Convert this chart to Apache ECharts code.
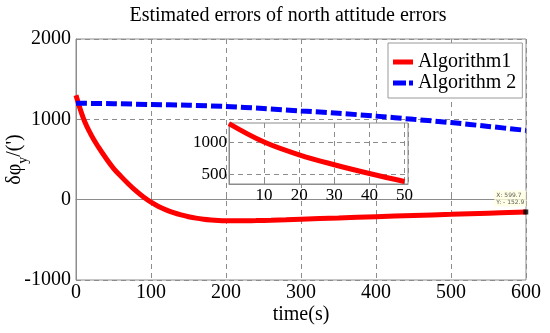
<!DOCTYPE html>
<html>
<head>
<meta charset="utf-8">
<script src="https://cdn.jsdelivr.net/npm/echarts@6/dist/echarts.min.js"></script>
<style>html,body{margin:0;padding:0;background:#fff}#c{width:550px;height:333px}</style>
</head>
<body>
<div id="c"></div>
<script>
const titleText = 'Estimated errors of north attitude errors';
const seriesNames = ['Algorithm1', 'Algorithm 2'];
const xName = 'time(s)';
const tRed = [0,10,20,30,40,50,60,70,80,90,100,110,120,130,140,150,160,170,180,190,200,220,240,260,280,300,350,400,450,500,550,600];
const red  = [1300,1010,810,653,515,390,290,195,108,32,-32,-85,-127,-162,-190,-212,-230,-243,-252,-258,-261,-263,-260,-256,-250,-243,-228,-212,-197,-183,-168,-153];
const tBlue = [0,50,100,150,200,250,300,350,400,450,500,550,600];
const blue  = [1200,1195,1185,1175,1160,1135,1105,1075,1040,1000,960,912,862];
const tipPoint = [599.7, -152.9];
const insetYLabels = [500, 1000];

const serif = 'Liberation Serif';
const redData = tRed.map((t,i)=>[t, red[i]]);
const blueData = tBlue.map((t,i)=>[t, blue[i]]);
const insetData = redData.filter(d => d[0] <= 50);
const gridCol = '#8c8c8c';

const chart = echarts.init(document.getElementById('c'));
chart.setOption({
  animation: false,
  backgroundColor: '#fff',
  title: { text: titleText, left: 283, textAlign: 'center', top: 1,
    textStyle: { fontFamily: serif, fontSize: 20, fontWeight: 'normal', color: '#000' } },
  legend: {
    data: [
      { name: seriesNames[0], icon: 'rect' },
      { name: seriesNames[1], icon: 'path://M0,0h13v5h-13z M16,0h4v5h-4z' }
    ],
    orient: 'vertical', left: 388, top: 43,
    backgroundColor: '#fff', borderColor: '#999', borderWidth: 1, borderRadius: 0,
    padding: [9, 6, 5, 5], itemGap: 1, itemWidth: 20, itemHeight: 5,
    textStyle: { fontFamily: serif, fontSize: 20, color: '#000', lineHeight: 20 }
  },
  grid: [
    { left: 76, right: 24, top: 39, bottom: 53, show: true, borderColor: gridCol, borderWidth: 1,
      outerBoundsMode: 'none', containLabel: false },
    { left: 229, top: 123, width: 179, height: 61, show: true, borderColor: gridCol, borderWidth: 1,
      backgroundColor: '#fff', z: 5, outerBoundsMode: 'none', containLabel: false }
  ],
  xAxis: [
    { type: 'value', gridIndex: 0, min: 0, max: 600, interval: 100,
      name: xName, nameLocation: 'middle', nameGap: 25, nameMoveOverlap: false,
      nameTextStyle: { fontFamily: serif, fontSize: 20, color: '#000' },
      axisLine: { lineStyle: { color: gridCol } },
      axisTick: { inside: true, length: 4, lineStyle: { color: gridCol } },
      axisLabel: { fontFamily: serif, fontSize: 20, color: '#000', margin: 3, formatter: v => String(v) },
      splitLine: { show: true, lineStyle: { color: gridCol, type: [5, 4], width: 1 } } },
    { type: 'value', gridIndex: 1, min: 0, max: 51, interval: 10, z: 6,
      axisLine: { lineStyle: { color: gridCol } },
      axisTick: { inside: true, length: 3, lineStyle: { color: gridCol } },
      axisLabel: { fontFamily: serif, fontSize: 17, color: '#000', margin: 3, showMinLabel: false, showMaxLabel: false },
      splitLine: { show: true, lineStyle: { color: gridCol, type: [5, 4], width: 1 } } }
  ],
  yAxis: [
    { type: 'value', gridIndex: 0, min: -1000, max: 2000, interval: 1000,
      name: '{a|δφ}{b|y}{a|/(\')}', nameLocation: 'middle', nameGap: 48, nameRotate: 90,
      nameMoveOverlap: false,
      nameTextStyle: { color: '#000', rich: {
        a: { fontFamily: serif, fontSize: 20, lineHeight: 26, verticalAlign: 'middle' },
        b: { fontFamily: serif, fontSize: 14, lineHeight: 26, verticalAlign: 'bottom', padding: [0, 0, -2, 0] } } },
      axisLine: { lineStyle: { color: gridCol } },
      axisTick: { inside: true, length: 4, lineStyle: { color: gridCol } },
      axisLabel: { fontFamily: serif, fontSize: 20, color: '#000', margin: 5, formatter: v => String(v) },
      splitLine: { show: true, lineStyle: { color: gridCol, type: [5, 4], width: 1 } } },
    { type: 'value', gridIndex: 1, min: 350, max: 1310, interval: 50, z: 6,
      axisLine: { lineStyle: { color: gridCol } },
      axisTick: { show: false },
      axisLabel: { fontFamily: serif, fontSize: 17, color: '#000', margin: 2,
        formatter: v => insetYLabels.indexOf(v) >= 0 ? String(v) : '',
        showMaxLabel: false },
      splitLine: { show: false } }
  ],
  series: [
    { name: seriesNames[0], type: 'line', xAxisIndex: 0, yAxisIndex: 0, data: redData,
      smooth: 0.4, showSymbol: false, symbol: 'none', color: '#ff0000',
      lineStyle: { color: '#ff0000', width: 5 } },
    { name: seriesNames[1], type: 'line', xAxisIndex: 0, yAxisIndex: 0, data: blueData,
      smooth: 0.3, showSymbol: false, symbol: 'none', color: '#0000ff',
      lineStyle: { color: '#0000ff', width: 5, type: [11, 4] } },
    { name: 'inset', type: 'line', xAxisIndex: 1, yAxisIndex: 1, data: insetData, z: 7,
      smooth: 0.4, showSymbol: false, symbol: 'none',
      lineStyle: { color: '#ff0000', width: 5 },
      markLine: { silent: true, symbol: 'none', label: { show: false },
        lineStyle: { color: gridCol, type: [5, 4], width: 1 },
        data: insetYLabels.map(v => ({ yAxis: v })) } },
    { name: 'tip', type: 'scatter', xAxisIndex: 0, yAxisIndex: 0, data: [tipPoint],
      symbol: 'rect', symbolSize: 5, itemStyle: { color: '#000' }, z: 8,
      label: { show: true, position: [-29, -19], formatter: p => 'X: ' + p.value[0] + '\nY: - ' + Math.abs(p.value[1]),
        fontFamily: 'DejaVu Sans', fontSize: 6, lineHeight: 7, color: '#333',
        backgroundColor: '#ffffe1', padding: [1, 2, 1, 2] } }
  ]
});
</script>
</body>
</html>
